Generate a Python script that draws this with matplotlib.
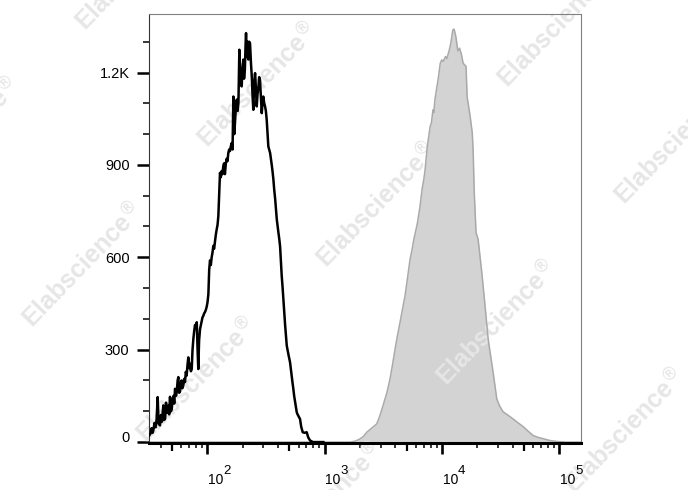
import numpy as np
import matplotlib
matplotlib.use("Agg")
import matplotlib.pyplot as plt
from matplotlib.ticker import FixedLocator, NullFormatter
from matplotlib.transforms import ScaledTranslation

plt.rcParams['font.family'] = ['Liberation Sans', 'DejaVu Sans']

# control (open black histogram): log10 intensity, count
ctrl_log = [1.503, 1.512, 1.525, 1.533, 1.540, 1.550, 1.560, 1.568, 1.577, 1.585,
            1.597, 1.605, 1.613, 1.625, 1.632, 1.640, 1.648, 1.657, 1.668, 1.675,
            1.682, 1.690, 1.697, 1.705, 1.712, 1.718, 1.725, 1.733, 1.740, 1.747,
            1.753, 1.760, 1.767, 1.774, 1.780, 1.788, 1.795, 1.803, 1.810, 1.817,
            1.824, 1.831, 1.838, 1.845, 1.852, 1.860, 1.867, 1.874, 1.881, 1.888,
            1.895, 1.903, 1.910, 1.917, 1.923, 1.930, 1.938, 1.945, 1.952, 1.959,
            1.966, 1.973, 1.980, 1.988, 1.995, 2.002, 2.009, 2.016, 2.023, 2.030,
            2.037, 2.044, 2.051, 2.058, 2.065, 2.072, 2.080, 2.087, 2.094, 2.101,
            2.108, 2.115, 2.122, 2.129, 2.136, 2.143, 2.150, 2.158, 2.165, 2.172,
            2.179, 2.186, 2.193, 2.200, 2.208, 2.215, 2.222, 2.230, 2.237, 2.244,
            2.251, 2.258, 2.265, 2.273, 2.279, 2.286, 2.293, 2.300, 2.307, 2.313,
            2.320, 2.326, 2.330, 2.336, 2.343, 2.350, 2.357, 2.364, 2.372, 2.379,
            2.386, 2.392, 2.400, 2.407, 2.414, 2.421, 2.428, 2.435, 2.442, 2.449,
            2.457, 2.464, 2.470, 2.477, 2.485, 2.492, 2.499, 2.506, 2.513, 2.520,
            2.527, 2.535, 2.542, 2.549, 2.556, 2.563, 2.570, 2.578, 2.585, 2.592,
            2.599, 2.606, 2.613, 2.620, 2.627, 2.634, 2.641, 2.648, 2.655, 2.663,
            2.670, 2.677, 2.684, 2.691, 2.698, 2.705, 2.712, 2.719, 2.726, 2.733,
            2.740, 2.748, 2.755, 2.762, 2.769, 2.776, 2.783, 2.790, 2.800, 2.813,
            2.830, 2.847, 2.860, 2.876, 2.890, 2.900, 2.989]
ctrl_count = [21, 25, 45, 30, 38, 62, 48, 75, 146, 60,
              54, 88, 66, 119, 72, 75, 128, 95, 118, 90,
              147, 100, 108, 140, 150, 125, 173, 150, 165, 200,
              211, 160, 163, 190, 200, 175, 183, 205, 195, 228,
              216, 250, 275, 240, 255, 230, 237, 300, 335, 360,
              380, 372, 389, 300, 237, 330, 367, 380, 392, 405,
              410, 418, 422, 430, 440, 455, 480, 560, 590, 575,
              600, 615, 637, 628, 650, 672, 691, 705, 734, 800,
              874, 860, 880, 870, 896, 905, 870, 905, 920, 912,
              939, 950, 945, 960, 971, 950, 1122, 1000, 1047, 1090,
              1112, 1075, 1100, 1274, 1200, 1160, 1155, 1220, 1242, 1180,
              1210, 1290, 1328, 1250, 1300, 1242, 1300, 1295, 1230, 1187,
              1120, 1079, 1170, 1198, 1150, 1090, 1130, 1150, 1185, 1176,
              1120, 1068, 1100, 1122, 1100, 1090, 1075, 1047, 1005, 960,
              950, 939, 920, 900, 878, 853, 820, 790, 757, 723,
              700, 680, 660, 636, 590, 540, 505, 464, 420, 380,
              345, 313, 298, 285, 272, 259, 236, 215, 193, 173,
              150, 130, 112, 97, 90, 85, 80, 75, 50, 32,
              30, 32, 15, 5, 2, 0, 0]

# stained sample (filled grey histogram)
stain_log = [1.503, 3.217, 3.260, 3.300, 3.330, 3.359, 3.400, 3.444, 3.470, 3.498,
             3.530, 3.557, 3.580, 3.600, 3.620, 3.643, 3.665, 3.685, 3.705, 3.728,
             3.745, 3.760, 3.790, 3.813, 3.830, 3.845, 3.856, 3.875, 3.899, 3.910,
             3.918, 3.924, 3.930, 3.940, 3.955, 3.967, 3.985, 3.998, 4.010, 4.030,
             4.041, 4.060, 4.075, 4.092, 4.103, 4.118, 4.135, 4.150, 4.165, 4.180,
             4.205, 4.214, 4.240, 4.258, 4.265, 4.275, 4.290, 4.308, 4.339, 4.367,
             4.393, 4.435, 4.467, 4.490, 4.521, 4.560, 4.606, 4.650, 4.692, 4.735,
             4.777, 4.820, 4.862, 4.920, 4.979, 5.050, 5.182]
stain_count = [0, 0, 3, 10, 18, 32, 45, 59, 85, 119,
               160, 205, 255, 302, 345, 390, 435, 475, 530, 594,
               625, 658, 710, 766, 820, 853, 885, 960, 1025, 1036,
               1063, 1079, 1070, 1112, 1150, 1177, 1230, 1241, 1236, 1252,
               1245, 1270, 1295, 1338, 1341, 1317, 1270, 1279, 1260, 1230,
               1220, 1122, 1057, 1004, 950, 810, 681, 658, 551, 442,
               335, 228, 140, 118, 98, 88, 75, 62, 50, 35,
               21, 15, 11, 5, 2, 0, 0]

y_ticks = [0, 300, 600, 900, 1200]
y_labels = ['0', '300', '600', '900', '1.2K']
x_decades = [2, 3, 4, 5]

W, H = 688, 490
fig = plt.figure(figsize=(W / 100, H / 100), dpi=100)
ax = fig.add_axes([149 / W, 1 - 443.3 / H, (580.7 - 149) / W, (443.3 - 14) / H])

xs = 10 ** np.array(stain_log)
ax.fill_between(xs, stain_count, 0, color='#d3d3d3', lw=0, zorder=1)
ax.plot(xs, stain_count, color='#a9a9a9', lw=1.1, zorder=2.2)
ax.plot(10 ** np.array(ctrl_log), ctrl_count, color='black', lw=1.8, zorder=3)

ax.set_xscale('log')
ax.set_xlim(10 ** 1.503, 10 ** 5.182)
ax.set_ylim(-4, 1390)

# spines
for s in ['top', 'right']:
    ax.spines[s].set_color('#808080')
    ax.spines[s].set_linewidth(0.8)
ax.spines['left'].set_color('#333333')
ax.spines['left'].set_linewidth(0.8)
ax.spines['bottom'].set_color('black')
ax.spines['bottom'].set_linewidth(2.2)

# y axis
ax.yaxis.set_major_locator(FixedLocator(y_ticks))
ax.set_yticklabels(y_labels)
ax.yaxis.set_minor_locator(FixedLocator([v for v in range(100, 1400, 100) if v % 300]))
ax.tick_params(axis='y', which='major', length=8.5, width=1.8, pad=5.5, labelsize=10.5)
ax.tick_params(axis='y', which='minor', length=4.3, width=1.1)
lab0 = ax.get_yticklabels()[0]
lab0.set_transform(lab0.get_transform() + ScaledTranslation(0, 4 / 72, fig.dpi_scale_trans))

# x axis: decades, 5x ticks, other minors
xmin_d, xmax_d = 1, 5
ax.xaxis.set_major_locator(FixedLocator([10.0 ** d for d in x_decades]))
ax.xaxis.set_major_formatter(NullFormatter())
ax.xaxis.set_minor_locator(FixedLocator([k * 10.0 ** d for d in range(xmin_d, xmax_d)
                                         for k in (2, 3, 4, 6, 7, 8, 9)]))
ax.xaxis.set_minor_formatter(NullFormatter())
ax.tick_params(axis='x', which='major', length=8, width=1.9)
ax.tick_params(axis='x', which='minor', length=3.6, width=1.1)

sec = ax.secondary_xaxis('bottom')
sec.spines['bottom'].set_visible(False)
sec.xaxis.set_major_locator(FixedLocator([5 * 10.0 ** d for d in range(xmin_d, xmax_d)]))
sec.xaxis.set_major_formatter(NullFormatter())
sec.xaxis.set_minor_locator(FixedLocator([]))
sec.tick_params(axis='x', which='major', length=5.5, width=1.6)

xt = ax.get_xaxis_transform()
for d in x_decades:
    ax.annotate('10', xy=(10.0 ** d, 0), xycoords=xt, xytext=(0.5, -29.5),
                textcoords='offset points', ha='left', va='baseline', fontsize=10)
    ax.annotate(str(d), xy=(10.0 ** d, 0), xycoords=xt, xytext=(11.4, -22),
                textcoords='offset points', ha='left', va='baseline', fontsize=9.5)

# watermark
marks = [(258, 85), (558, 25), (675, 142), (-40, 140), (83, 265), (377, 205),
         (497, 323), (197, 380), (625, 431), (136, -32), (323, 505)]
for px, py in marks:
    ax.text(px / W, 1 - py / H, 'Elabscience$^{\u00ae}$', transform=fig.transFigure,
            rotation=46, rotation_mode='anchor', ha='center', va='center',
            fontsize=18, fontweight='bold', color='#e6e6e6', clip_on=False, zorder=2)

fig.savefig('out.png', dpi=100)
